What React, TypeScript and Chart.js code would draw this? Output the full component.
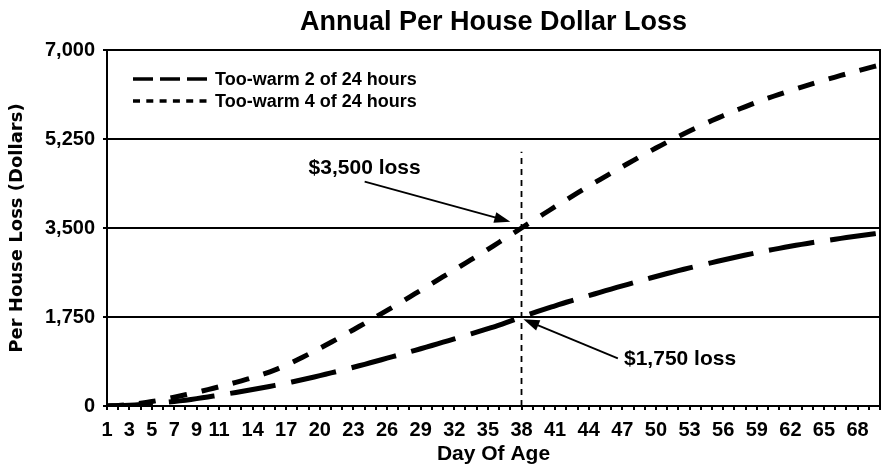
import React, { useEffect, useRef } from 'react';
import { Chart, registerables } from 'chart.js';

Chart.register(...registerables);

const FONT = "'Liberation Sans', Arial, Helvetica, sans-serif";
const WIDE_FONT = "'DejaVu Sans', Verdana, sans-serif";

const CHART_TITLE = 'Annual Per House Dollar Loss';
const X_AXIS_TITLE = 'Day Of Age';
const Y_AXIS_TITLE = 'Per House Loss (Dollars)';

const DAYS = [
  1, 2, 3, 4, 5, 6, 7, 8, 9, 10, 11, 12, 13, 14, 15, 16, 17, 18, 19, 20,
  21, 22, 23, 24, 25, 26, 27, 28, 29, 30, 31, 32, 33, 34, 35, 36, 37, 38, 39, 40,
  41, 42, 43, 44, 45, 46, 47, 48, 49, 50, 51, 52, 53, 54, 55, 56, 57, 58, 59, 60,
  61, 62, 63, 64, 65, 66, 67, 68, 69, 70,
];

const LABELED_DAYS = [1, 3, 5, 7, 9, 11, 14, 17, 20, 23, 26, 29, 32, 35, 38, 41, 44, 47, 50, 53, 56, 59, 62, 65, 68];

const Y_TICK_VALUES = [0, 1750, 3500, 5250, 7000];

const SERIES_NAMES = ['Too-warm 2 of 24 hours', 'Too-warm 4 of 24 hours'];

const LOSS_2_OF_24 = [
  0, 6, 15, 28, 45, 65, 88, 115, 145, 178,
  212, 248, 285, 323, 363, 405, 450, 497, 546, 597,
  650, 705, 762, 820, 880, 940, 1000, 1063, 1126, 1190,
  1255, 1320, 1386, 1452, 1520, 1590, 1670, 1750, 1825, 1900,
  1970, 2040, 2105, 2170, 2235, 2300, 2362, 2424, 2486, 2546,
  2605, 2662, 2716, 2768, 2820, 2870, 2920, 2968, 3014, 3058,
  3100, 3140, 3178, 3214, 3248, 3280, 3312, 3343, 3372, 3400,
];

const LOSS_4_OF_24 = [
  0, 12, 30, 55, 88, 128, 172, 220, 270, 322,
  378, 435, 495, 560, 630, 710, 805, 910, 1020, 1135,
  1253, 1375, 1500, 1625, 1752, 1880, 2010, 2142, 2275, 2408,
  2542, 2676, 2810, 2945, 3080, 3220, 3360, 3500, 3640, 3780,
  3918, 4055, 4190, 4322, 4452, 4580, 4706, 4830, 4952, 5072,
  5188, 5300, 5408, 5512, 5612, 5708, 5800, 5888, 5972, 6052,
  6128, 6200, 6270, 6338, 6404, 6468, 6530, 6590, 6648, 6705,
];

const MARKER_DAY = 38;
const MARKER_TOP_VALUE = 5000;

// callouts, in data space (day, dollars)
const CALLOUTS = [
  { text: '$3,500 loss', align: 'center', textDay: 24, textValue: 4670, tailDay: 24, tailValue: 4410, tipDay: 37, tipValue: 3624 },
  { text: '$1,750 loss', align: 'left', textDay: 47.15, textValue: 924, tailDay: 46.6, tailValue: 938, tipDay: 38.17, tipValue: 1705 },
];

const SERIES_DASH = [[46, 16], [17, 15]];
const LEGEND_DASH = [[20, 7], [7, 6.3]];

const fmt = (v: number) => v.toLocaleString('en-US');

const decorPlugin = {
  id: 'decor',
  afterDatasetsDraw(chart: any) {
    const { ctx, chartArea: ca, scales } = chart;
    const x = scales.x;
    const y = scales.y;
    const px = (d: number) => x.getPixelForValue(d - DAYS[0]);
    ctx.save();
    ctx.strokeStyle = '#000';
    ctx.fillStyle = '#000';

    // right border
    ctx.setLineDash([]);
    ctx.lineWidth = 2;
    ctx.beginPath();
    ctx.moveTo(ca.right, ca.top - 1);
    ctx.lineTo(ca.right, ca.bottom + 1);
    ctx.stroke();

    // vertical marker
    ctx.lineWidth = 1.8;
    ctx.setLineDash([6, 5]);
    ctx.beginPath();
    ctx.moveTo(px(MARKER_DAY), y.getPixelForValue(0));
    ctx.lineTo(px(MARKER_DAY), y.getPixelForValue(MARKER_TOP_VALUE));
    ctx.stroke();
    ctx.setLineDash([]);

    // callouts
    ctx.font = `bold 21px ${FONT}`;
    ctx.textBaseline = 'middle';
    for (const c of CALLOUTS) {
      ctx.textAlign = c.align as CanvasTextAlign;
      ctx.fillText(c.text, px(c.textDay), y.getPixelForValue(c.textValue));
      const tx = px(c.tailDay), ty = y.getPixelForValue(c.tailValue);
      const hx = px(c.tipDay), hy = y.getPixelForValue(c.tipValue);
      const dx = hx - tx, dy = hy - ty;
      const len = Math.hypot(dx, dy);
      const ux = dx / len, uy = dy / len;
      const headLen = 16, headHalf = 5.5;
      const bx = hx - ux * headLen, by = hy - uy * headLen;
      ctx.lineWidth = 1.8;
      ctx.beginPath();
      ctx.moveTo(tx, ty);
      ctx.lineTo(bx + ux * 2, by + uy * 2);
      ctx.stroke();
      ctx.beginPath();
      ctx.moveTo(hx, hy);
      ctx.lineTo(bx - uy * headHalf, by + ux * headHalf);
      ctx.lineTo(bx + uy * headHalf, by - ux * headHalf);
      ctx.closePath();
      ctx.fill();
    }

    // legend
    const lx0 = ca.left + 26;
    const lx1 = ca.left + 100;
    const rows = [ca.top + 29, ca.top + 51];
    ctx.font = `bold 18px ${FONT}`;
    ctx.textAlign = 'left';
    chart.data.datasets.forEach((ds: any, i: number) => {
      ctx.lineWidth = 3.5;
      ctx.lineCap = 'butt';
      ctx.setLineDash(LEGEND_DASH[i]);
      ctx.beginPath();
      ctx.moveTo(lx0, rows[i]);
      ctx.lineTo(lx1, rows[i]);
      ctx.stroke();
      ctx.setLineDash([]);
      ctx.fillText(ds.label, lx1 + 8, rows[i] + 1);
    });
    ctx.restore();
  },
};

export default function App() {
  const ref = useRef<HTMLCanvasElement>(null);
  useEffect(() => {
    if (!ref.current) return;
    const chart = new Chart(ref.current, {
      type: 'line',
      data: {
        labels: DAYS.map(String),
        datasets: [
          {
            label: SERIES_NAMES[0],
            data: LOSS_2_OF_24,
            borderColor: '#000',
            borderWidth: 5,
            borderDash: SERIES_DASH[0],
            borderCapStyle: 'butt',
            pointRadius: 0,
            fill: false,
            tension: 0.3,
          },
          {
            label: SERIES_NAMES[1],
            data: LOSS_4_OF_24,
            borderColor: '#000',
            borderWidth: 5,
            borderDash: SERIES_DASH[1],
            borderCapStyle: 'butt',
            pointRadius: 0,
            fill: false,
            tension: 0.3,
          },
        ],
      },
      options: {
        responsive: false,
        animation: false,
        layout: { padding: { left: 0, right: 2, top: 0, bottom: 0 } },
        plugins: {
          legend: { display: false },
          tooltip: { enabled: false },
          title: {
            display: true,
            text: CHART_TITLE,
            fullSize: false,
            color: '#000',
            font: { family: FONT, size: 27, weight: 'bold' },
            padding: { top: 6, bottom: 11.6 },
          },
        },
        scales: {
          x: {
            type: 'category',
            offset: false,
            afterFit: (s: any) => { s.height = 62; },
            grid: { display: true, drawOnChartArea: false, drawTicks: true, tickLength: 4, color: '#000', lineWidth: 2 },
            border: { display: true, color: '#000', width: 2 },
            ticks: {
              autoSkip: false,
              maxRotation: 0,
              minRotation: 0,
              padding: 8,
              color: '#000',
              font: { family: FONT, size: 20, weight: 'bold' },
              callback: (_v: any, i: number) => (LABELED_DAYS.includes(DAYS[i]) ? String(DAYS[i]) : ''),
            },
            title: {
              display: true,
              text: X_AXIS_TITLE,
              color: '#000',
              font: { family: FONT, size: 21, weight: 'bold' },
              padding: { top: 0, bottom: 1 },
            },
          },
          y: {
            type: 'linear',
            min: 0,
            max: 7000,
            afterFit: (s: any) => { s.width = 107; },
            afterBuildTicks: (s: any) => { s.ticks = Y_TICK_VALUES.map((v) => ({ value: v })); },
            grid: { display: true, drawOnChartArea: true, drawTicks: true, tickLength: 4, color: '#000', lineWidth: 2 },
            border: { display: true, color: '#000', width: 2 },
            ticks: {
              padding: 8,
              color: '#000',
              font: { family: FONT, size: 20, weight: 'bold' },
              callback: (v: any) => fmt(Number(v)),
            },
            title: {
              display: true,
              text: Y_AXIS_TITLE,
              color: '#000',
              font: { family: WIDE_FONT, size: 18, weight: 'bold' },
              padding: { top: 7, bottom: 0 },
            },
          },
        },
      },
      plugins: [decorPlugin],
    });
    return () => chart.destroy();
  }, []);
  return (
    <div style={{ position: 'fixed', left: 0, top: 0, width: 888, height: 468, background: '#fff' }}>
      <canvas ref={ref} width={888} height={468} style={{ display: 'block' }} />
    </div>
  );
}
